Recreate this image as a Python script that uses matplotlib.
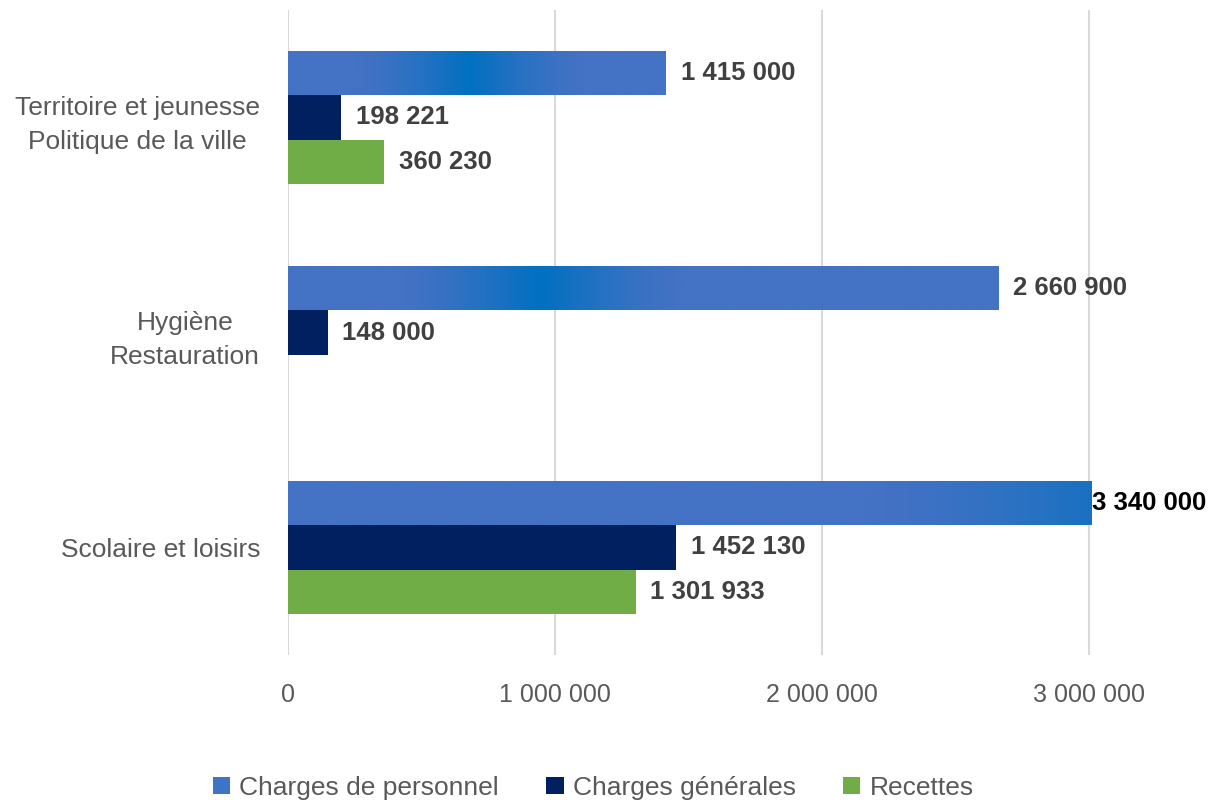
import numpy as np
import matplotlib
matplotlib.use("Agg")
import matplotlib.pyplot as plt
from matplotlib import font_manager
from matplotlib.colors import to_rgb
from matplotlib.patches import Patch

categories = ["Territoire et jeunesse\nPolitique de la ville", "Hygiène\nRestauration", "Scolaire et loisirs"]
series = ["Charges de personnel", "Charges générales", "Recettes"]
personnel = [1415000, 2660900, 3340000]
generales = [198221, 148000, 1452130]
recettes = [360230, np.nan, 1301933]
ticks = [0, 1000000, 2000000, 3000000]

names = {f.name for f in font_manager.fontManager.ttflist}
narrow = "Liberation Sans Narrow" if "Liberation Sans Narrow" in names else "Liberation Sans"
plt.rcParams["font.family"] = [narrow, "DejaVu Sans"]

def fmt(v):
    return f"{int(v):,}".replace(",", " ")

blue_edge = np.array(to_rgb("#4472C4"))
blue_mid = np.array(to_rgb("#0070C0"))
navy = "#002060"
green = "#70AD47"
grey = "#595959"

fig = plt.figure(figsize=(12.11, 8.02), dpi=100)
ax = fig.add_axes([288 / 1211, 1 - 655 / 802, (1092 - 288) / 1211, (655 - 10) / 802])

y = np.arange(len(categories))
h = 0.205
xmax = 3010000

b1 = ax.barh(y - h, personnel, height=h, color="#4472C4", zorder=2)
b2 = ax.barh(y, generales, height=h, color=navy, zorder=2)
b3 = ax.barh(y + h, recettes, height=h, color=green, zorder=2)

# gradient fill on the personnel bars (centre position, spread as fraction of bar)
grad = [(0.48, 0.3), (0.355, 0.2), (1.0, 0.35)]
for bar, (c, s) in zip(b1, grad):
    x0, y0 = bar.get_x(), bar.get_y()
    w, hh = bar.get_width(), bar.get_height()
    w_vis = min(w, xmax)
    t = np.linspace(0, 1, 400) * w_vis / w
    wt = np.clip(1 - np.abs(t - c) / s, 0, 1) ** 1.4
    img = blue_edge[None, :] * (1 - wt[:, None]) + blue_mid[None, :] * wt[:, None]
    bar.set_facecolor("none")
    im = ax.imshow(img[None, :, :], extent=[x0, x0 + w_vis, y0 + hh, y0],
                   aspect="auto", zorder=2, interpolation="bilinear")
    im.set_clip_path(bar)

off = 55000
for bars, vals in [(b1, personnel), (b2, generales), (b3, recettes)]:
    for bar, v in zip(bars, vals):
        if np.isnan(v):
            continue
        yc = bar.get_y() + bar.get_height() / 2
        if v > xmax:
            ax.text(xmax, yc, fmt(v), va="center", ha="left", fontsize=18.5,
                    fontweight="bold", color="black", clip_on=False)
        else:
            ax.text(v + off, yc, fmt(v), va="center", ha="left", fontsize=18.5,
                    fontweight="bold", color="#404040")

ax.set_xlim(0, xmax)
ax.set_ylim(len(categories) - 0.5, -0.5)
ax.set_yticks(y)
ax.set_yticklabels(categories, fontsize=19, color=grey, multialignment="center",
                   linespacing=1.5)
ax.set_xticks(ticks)
ax.set_xticklabels([fmt(t) for t in ticks], fontsize=18, color=grey)
ax.tick_params(axis="both", length=0)
ax.tick_params(axis="y", pad=20)
ax.tick_params(axis="x", pad=20)
ax.grid(axis="x", color="#D9D9D9", linewidth=1.5, zorder=0)
ax.set_axisbelow(True)
for sp in ax.spines.values():
    sp.set_visible(False)

handles = [Patch(facecolor="#3F73C6"), Patch(facecolor=navy), Patch(facecolor=green)]
fig.legend(handles, series, loc="lower center", bbox_to_anchor=(0.49, -0.027), ncol=3,
           frameon=False, fontsize=19, labelcolor=grey, handlelength=0.65, handleheight=0.65,
           handletextpad=0.35, columnspacing=1.8)

fig.savefig("out.png", dpi=100)
